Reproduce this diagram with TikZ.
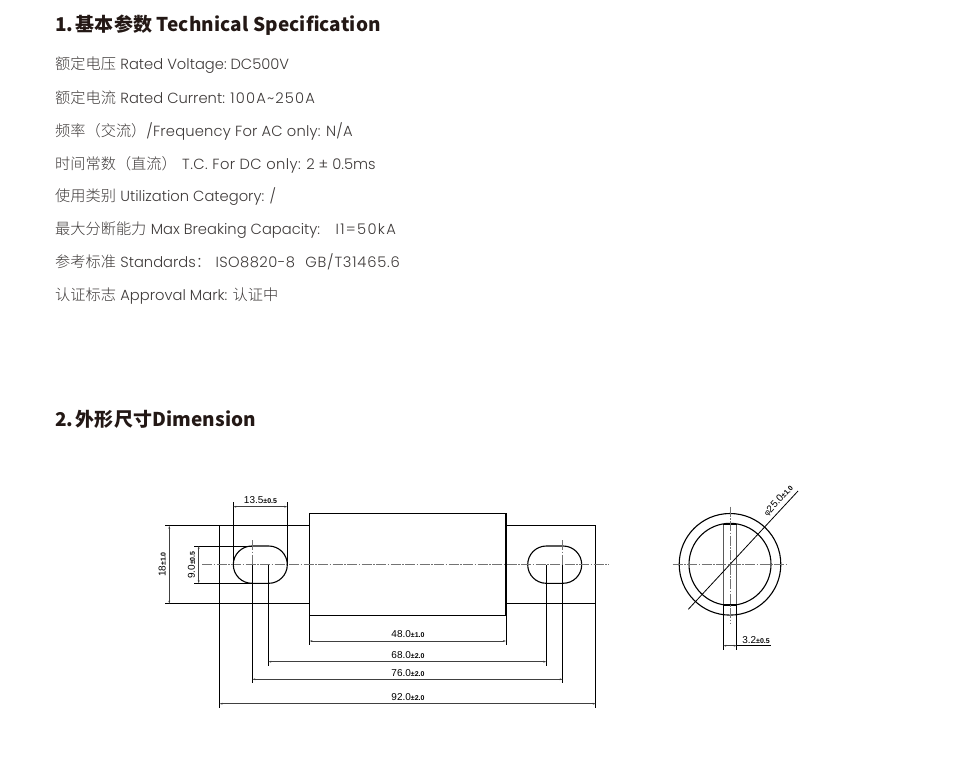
\documentclass[tikz,border=0pt]{standalone}
\usepackage{fontspec}
\setmainfont{Poppins}[UprightFont=* Light]
\newfontfamily\cjk{Noto Sans CJK SC}[UprightFont=* Light,BoldFont=* Bold]
\newfontfamily\cjkh{Noto Sans CJK SC}[LetterSpace=0.7]
\newfontfamily\dimf{Liberation Sans}
\usetikzlibrary{arrows.meta}
\definecolor{bodytxt}{HTML}{3E3A39}
\definecolor{headtxt}{HTML}{231815}
\newcommand{\bt}[2]{{\cjk\fontsize{15.2}{16}\selectfont #1}\hspace{0.3em}#2}
\newcommand{\lsp}[2]{{\addfontfeature{LetterSpace=#1}#2}}
\newcommand{\dl}[2]{{\dimf\fontsize{10}{11}\selectfont #1{\fontsize{7}{8}\selectfont\bfseries ±#2}}}
\tikzset{
 x=1pt,y=-1pt,
 line/.style={anchor=base west,inner sep=0pt,text=bodytxt,font=\fontsize{14.7}{16}\selectfont},
 head/.style={anchor=base west,inner sep=0pt,text=headtxt,font=\cjkh\bfseries\fontsize{19}{22}\selectfont},
 outl/.style={draw=black,line width=1.1pt},
 thin/.style={draw=black,line width=0.8pt},
 dimn/.style={draw=black!75,line width=0.9pt,{Stealth[length=3pt,width=1.8pt]}-{Stealth[length=3pt,width=1.8pt]}},
 center/.style={draw=black!55,line width=0.8pt,dash pattern=on 10pt off 1.5pt on 1.5pt off 1.5pt},
 lab/.style={inner sep=0pt,text=black},
}
\begin{document}
\begin{tikzpicture}
\useasboundingbox (0,0) rectangle (965,768);
\node[head] (h1) at (55,31.5) {1.\hspace{0.12em}基本参数 Technical Specification};
\node[line] (l1) at (55,70) {\bt{额定电压}{Rated Voltage: \hspace{-1.5pt}DC500V}};
\node[line] (l2) at (55,103) {\bt{额定电流}{Rated Current: \lsp{8}{100A\textasciitilde250A}}};
\node[line] (l3) at (55,136) {\bt{频率（交流）}{\hspace{-0.3em}\lsp{1.2}{/Frequency For AC only: N/A}}};
\node[line] (l4) at (55,169) {\bt{时间常数（直流）}{\hspace{1pt}\lsp{3}{T.C. For DC only:} 2 ± 0.5ms}};
\node[line] (l5) at (55,201.5) {\bt{使用类别}{Utilization Category: /}};
\node[line] (l6) at (55,234.5) {\bt{最大分断能力}{Max Breaking Capacity:\hspace{1.05em}\lsp{9}{I1=50kA}}};
\node[line] (l7) at (55,267.5) {\bt{参考标准}{Standards{\cjk ：}\hspace{5pt}\lsp{3}{ISO8820-8}\hspace{0.7em}\lsp{5.5}{GB/T31465.6}}};
\node[line] (l8) at (55,300.5) {\bt{认证标志}{Approval Mark: {\cjk\fontsize{15.2}{16}\selectfont 认证中}}};
\node[head] (h2) at (55,426) {2.\hspace{0.12em}外形尺寸Dimension};

% side view
\draw[outl] (219.5,525.7) rectangle (309.5,603.7);
\draw[outl] (309.5,513.5) rectangle (506,615.7);
\draw[outl] (506,525.7) rectangle (595.7,603.7);
\draw[outl,rounded corners=18.6pt] (233.3,546) rectangle (287.3,583.3);
\draw[outl,rounded corners=18.6pt] (527.7,546) rectangle (581.7,583.3);
\draw[center] (202,564.7) -- (609,564.7);
\draw[center] (252.3,540) -- (252.3,564.7);
\draw[center] (562.7,540) -- (562.7,564.7);
% extension lines
\draw[thin] (252.3,564.7) -- (252.3,683);
\draw[thin] (562.7,564.7) -- (562.7,683);
\draw[thin] (268.3,564.7) -- (268.3,666);
\draw[thin] (546.3,564.7) -- (546.3,666);
\draw[thin] (219.5,603.7) -- (219.5,707.7);
\draw[thin] (595.7,603.7) -- (595.7,707.7);
\draw[thin] (309.5,615.7) -- (309.5,645);
\draw[thin] (506,615.7) -- (506,645);
\draw[thin] (233.3,502) -- (233.3,564.7);
\draw[thin] (287.3,502) -- (287.3,564.7);
\draw[thin] (165,525.7) -- (219.5,525.7);
\draw[thin] (165,603.7) -- (219.5,603.7);
\draw[thin] (194,546) -- (252.3,546);
\draw[thin] (194,583.3) -- (252.3,583.3);
% dimensions
\draw[dimn] (309.5,641) -- (506,641);
\draw[dimn] (268.3,661.7) -- (546.3,661.7);
\draw[dimn] (252.3,679.3) -- (562.7,679.3);
\draw[dimn] (219.5,703.7) -- (595.7,703.7);
\draw[dimn] (233.3,506.7) -- (287.3,506.7);
\draw[dimn] (169.3,525.7) -- (169.3,603.7);
\draw[dimn] (198.7,546) -- (198.7,583.3);
\node[lab] (d48) at (408,634) {\dl{48.0}{1.0}};
\node[lab] (d68) at (408,655) {\dl{68.0}{2.0}};
\node[lab] (d76) at (408,672.7) {\dl{76.0}{2.0}};
\node[lab] (d92) at (408,697) {\dl{92.0}{2.0}};
\node[lab] (d135) at (260.5,500) {\dl{13.5}{0.5}};
\node[lab,rotate=90] (d18) at (162.3,564.5) {\dl{18}{1.0}};
\node[lab,rotate=90] (d9) at (191.5,565) {\dl{9.0}{0.5}};

% end view
\coordinate (c) at (730,564.3);
\draw[outl] (c) circle[radius=50.8];
\draw[outl] (c) circle[radius=41];
\draw[draw=black!65,line width=1.1pt] (723.3,524.3) rectangle (736.7,605);
\draw[black,line width=1.5pt] (723.3,524.3) -- (736.7,524.3) (723.3,605) -- (736.7,605);
\draw[center] (672.7,564.3) -- (788,564.3);
\draw[center] (730,506.7) -- (730,623.3);
\draw[thin] (688.3,609.3) -- (798,491);
\draw[thin] (723.3,605) -- (723.3,650);
\draw[thin] (736.7,605) -- (736.7,650);
\draw[dimn] (723.3,645.7) -- (736.7,645.7);
\draw[thin] (736.7,645.7) -- (770.7,645.7);
\node[lab,rotate=47] (dphi) at (778.5,501) {\dl{\fontsize{8}{9}\selectfont φ\fontsize{10}{11}\selectfont 25.0}{1.0}};
\node[lab] (d32) at (756,640) {\dl{3.2}{0.5}};
\end{tikzpicture}
\end{document}
